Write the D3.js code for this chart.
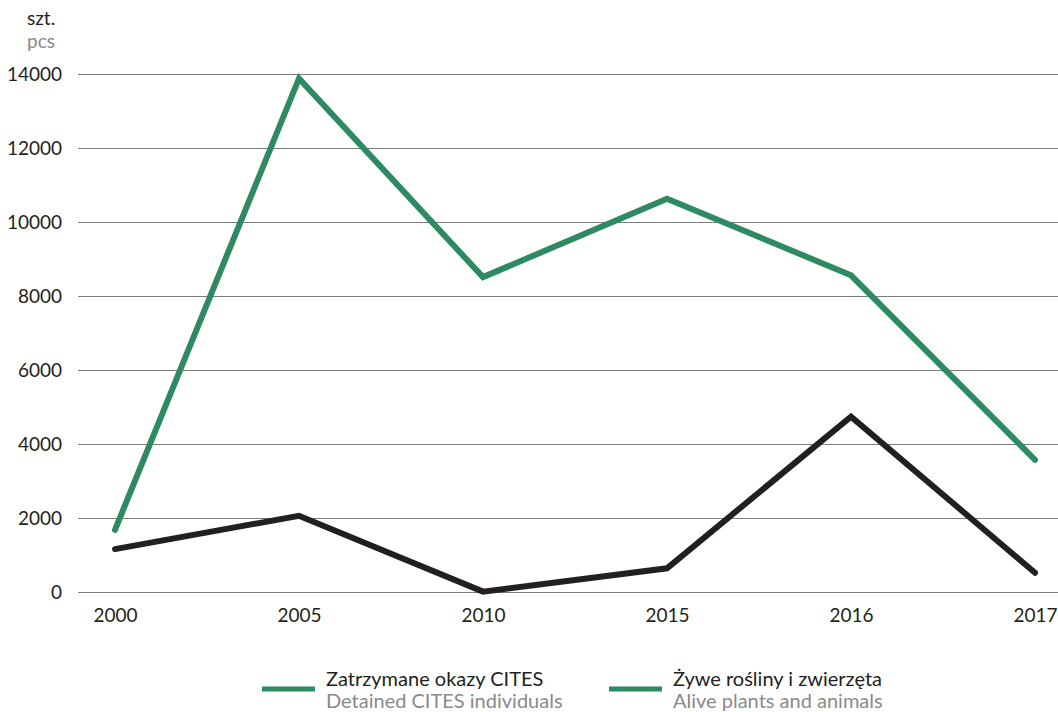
<!DOCTYPE html>
<html><head><meta charset="utf-8">
<script src="https://cdn.jsdelivr.net/npm/d3@7"></script>
<style>
html,body{margin:0;padding:0;background:#fff;}
text{font-family:Lato,"Open Sans",sans-serif;}
</style></head>
<body>
<svg id="c" width="1058" height="712"></svg>
<script>
const years = ["2000","2005","2010","2015","2016","2017"];
const greenValues = [1680, 13880, 8510, 10630, 8560, 3570];
const blackValues = [1160, 2060, 10, 640, 4740, 520];
const yTicks = [0, 2000, 4000, 6000, 8000, 10000, 12000, 14000];
const legendPl = ["Zatrzymane okazy CITES", "Żywe rośliny i zwierzęta"];
const legendEn = ["Detained CITES individuals", "Alive plants and animals"];
const unitPl = "szt.", unitEn = "pcs";

const GREEN = "#2d8a63", BLACK = "#231f20", GRID = "#7d7d7d", GREY = "#8a8a8a";
const svg = d3.select("#c");
const x = d3.scalePoint().domain(years).range([115, 1035]);
const y = d3.scaleLinear().domain([0, 14000]).range([592, 74]);

// grid
const yAxis = d3.axisLeft(y).tickValues(yTicks).tickSize(-(1058 - 78)).tickFormat(d => d).tickPadding(16);
const gy = svg.append("g").attr("transform", "translate(78,0)").call(yAxis);
gy.select(".domain").remove();
gy.selectAll(".tick line").attr("stroke", GRID).attr("stroke-width", 1.2);
gy.selectAll(".tick text").attr("fill", "#231f20").style("font-size", "19px").attr("dy", "0.36em");

const xAxis = d3.axisBottom(x).tickSize(0).tickPadding(26);
const gx = svg.append("g").attr("transform", "translate(0,592)").call(xAxis);
gx.select(".domain").remove();
gx.selectAll(".tick text").attr("fill", "#231f20").style("font-size", "19px").attr("dy", "0.2em");

// unit
svg.append("text").attr("x", 27).attr("y", 25).attr("fill", "#231f20").style("font-size", "19px").text(unitPl);
svg.append("text").attr("x", 27).attr("y", 48).attr("fill", GREY).style("font-size", "19px").text(unitEn);

const line = d3.line().x((d, i) => x(years[i])).y(d => y(d));
svg.append("path").datum(greenValues).attr("d", line).attr("fill", "none")
  .attr("stroke", GREEN).attr("stroke-width", 6).attr("stroke-linejoin", "miter").attr("stroke-linecap", "round");
svg.append("path").datum(blackValues).attr("d", line).attr("fill", "none")
  .attr("stroke", BLACK).attr("stroke-width", 6).attr("stroke-linejoin", "miter").attr("stroke-linecap", "round");

// legend
const legX = [262, 609];
legendPl.forEach((t, i) => {
  const g = svg.append("g").attr("transform", `translate(${legX[i]},0)`);
  g.append("line").attr("x1", 0).attr("x2", 53).attr("y1", 689).attr("y2", 689)
    .attr("stroke", GREEN).attr("stroke-width", 5);
  g.append("text").attr("x", 64).attr("y", 686).attr("fill", "#231f20").style("font-size", "20px").text(t);
  g.append("text").attr("x", 64).attr("y", 708).attr("fill", GREY).style("font-size", "20px").text(legendEn[i]);
});
</script>
</body></html>
